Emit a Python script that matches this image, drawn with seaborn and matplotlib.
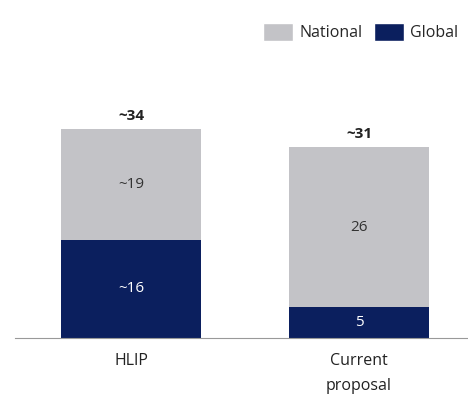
import matplotlib
matplotlib.use("Agg")
import matplotlib.pyplot as plt
import seaborn as sns
import pandas as pd
import numpy as np
from matplotlib.patches import Patch

categories = ["HLIP", "Current\nproposal"]
global_vals = [16, 5]
national_vals = [18, 26]
global_labels = ["~16", "5"]
national_labels = ["~19", "26"]
total_labels = ["~34", "~31"]

GRAY = "#C3C3C7"
NAVY = "#0B1F5E"

sns.set_theme(style="white")
plt.rcParams["font.family"] = ["Open Sans", "DejaVu Sans"]

df = pd.DataFrame({"cat": categories, "global": global_vals, "national": national_vals})
df["total"] = df["global"] + df["national"]

fig = plt.figure(figsize=(4.68, 3.94), dpi=100)
ax = fig.add_axes([0.032, 0.142, 0.968, 0.60])

sns.barplot(data=df, x="cat", y="total", color=GRAY, width=0.615, ax=ax, saturation=1, linewidth=0)
sns.barplot(data=df, x="cat", y="global", color=NAVY, width=0.615, ax=ax, saturation=1, linewidth=0)

ax.set_xlim(-0.509, 1.478)
ax.set_ylim(0, 38.4)
for i in range(len(categories)):
    g = global_vals[i]
    n = national_vals[i]
    ax.text(i, g / 2, global_labels[i], ha="center", va="center", color="white", fontsize=11)
    ax.text(i, g + n / 2, national_labels[i], ha="center", va="center", color="#333333", fontsize=11)
    ax.text(i, g + n + 1.0, total_labels[i], ha="center", va="bottom", color="#222222", fontsize=11, fontweight="bold")

ax.set_xlabel("")
ax.set_ylabel("")
ax.set_yticks([])
for s in ["top", "right", "left"]:
    ax.spines[s].set_visible(False)
ax.spines["bottom"].set_color("#999999")
ax.spines["bottom"].set_linewidth(0.8)
ax.tick_params(axis="x", length=0, pad=11, labelsize=11.5, labelcolor="#222222")
for lbl in ax.get_xticklabels():
    lbl.set_linespacing(1.75)
    lbl.set_verticalalignment("top")

handles = [Patch(facecolor=GRAY, label="National"), Patch(facecolor=NAVY, label="Global")]
fig.legend(handles=handles, loc="upper right", bbox_to_anchor=(1.0, 0.965), ncol=2, frameon=False,
           fontsize=11.5, handlelength=1.9, handleheight=1.3, handletextpad=0.4, columnspacing=0.7,
           borderaxespad=0.2)

fig.savefig("out.png", dpi=100)
